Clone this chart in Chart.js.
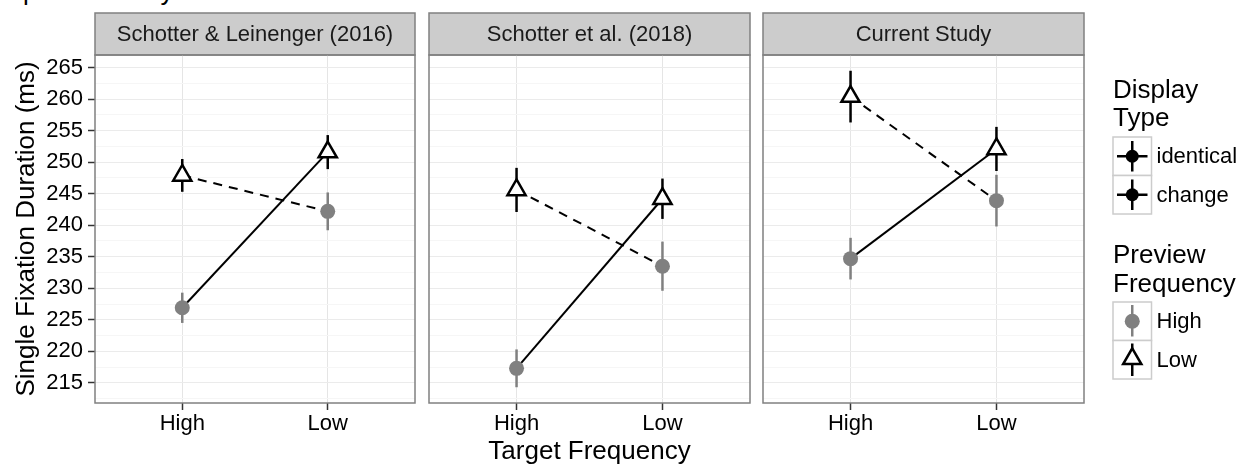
<!DOCTYPE html>
<html>
<head>
<meta charset="utf-8">
<script src="https://cdn.jsdelivr.net/npm/chart.js@4.4.1/dist/chart.umd.min.js"></script>
<style>
  html, body { margin: 0; padding: 0; background: #fff; }
  #fig { position: relative; width: 1240px; height: 465px; overflow: hidden; font-family: "Liberation Sans", Arial, sans-serif; }
  .panel { position: absolute; top: 0; height: 465px; }
  #caption { position: absolute; left: 0; top: -22px; font-size: 26px; line-height: 26px; white-space: nowrap; color: #000; }
</style>
</head>
<body>
<div id="fig">
  <div id="caption">represented by the mean</div>
  <div class="panel" style="left:0;width:420px"><canvas id="p0"></canvas></div>
  <div class="panel" style="left:420px;width:335px"><canvas id="p1"></canvas></div>
  <div class="panel" style="left:755px;width:485px"><canvas id="p2"></canvas></div>
</div>
<script>
// DATA

const studies = ["Schotter & Leinenger (2016)", "Schotter et al. (2018)", "Current Study"];
const targetFreq = ["High", "Low"];
const displayTypes = ["identical", "change"];
const previewFreq = ["High", "Low"];
const yTicks = [215, 220, 225, 230, 235, 240, 245, 250, 255, 260, 265];

// [study][target High, target Low]
const highPreviewMean = [[226.9, 242.2], [217.3, 233.5], [234.7, 243.9]];
const highPreviewSE = [[2.4, 3.0], [3.0, 3.9], [3.3, 4.1]];
const lowPreviewMean = [[247.9, 251.6], [245.6, 244.2], [260.4, 252.1]];
const lowPreviewSE = [[2.6, 2.7], [3.5, 3.2], [4.1, 3.5]];

const FONT = '"Liberation Sans", Arial, sans-serif';
Chart.defaults.font.family = FONT;
Chart.defaults.color = "#000";

const GREY_PT = "#808080";


// PLUGINS

const panelDecor = {
  id: "panelDecor",
  beforeDraw(chart, args, opts) {
    const ctx = chart.ctx;
    const a = chart.chartArea;
    ctx.save();
    ctx.fillStyle = "#cccccc";
    ctx.fillRect(a.left, 13, a.right - a.left, a.top - 13);
    ctx.strokeStyle = "#808080";
    ctx.lineWidth = 1.5;
    ctx.strokeRect(a.left, 13, a.right - a.left, a.top - 13);
    ctx.fillStyle = "#1a1a1a";
    ctx.font = "22px " + FONT;
    ctx.textAlign = "center";
    ctx.textBaseline = "middle";
    ctx.fillText(opts.title, (a.left + a.right) / 2, (13 + a.top) / 2 + 1);
    ctx.restore();
  },
  afterDraw(chart) {
    const ctx = chart.ctx;
    const a = chart.chartArea;
    ctx.save();
    ctx.strokeStyle = "#808080";
    ctx.lineWidth = 1.5;
    ctx.strokeRect(a.left, a.top, a.right - a.left, a.bottom - a.top);
    ctx.restore();
  }
};

const errorBars = {
  id: "errorBars",
  beforeDatasetDraw(chart, args) {
    const ds = chart.data.datasets[args.index];
    if (!ds.se) return;
    const ctx = chart.ctx;
    const xs = chart.scales.x, ys = chart.scales.y;
    ctx.save();
    ctx.strokeStyle = ds.errColor;
    ctx.lineWidth = 2.5;
    ds.data.forEach((p, i) => {
      const x = xs.getPixelForValue(p.x);
      ctx.beginPath();
      ctx.moveTo(x, ys.getPixelForValue(p.y - ds.se[i]));
      ctx.lineTo(x, ys.getPixelForValue(p.y + ds.se[i]));
      ctx.stroke();
    });
    ctx.restore();
  }
};

function triangle(ctx, x, y, r) {
  ctx.beginPath();
  ctx.moveTo(x, y - r);
  ctx.lineTo(x + 0.866 * r, y + 0.5 * r);
  ctx.lineTo(x - 0.866 * r, y + 0.5 * r);
  ctx.closePath();
}

const ggLegend = {
  id: "ggLegend",
  afterDraw(chart) {
    const ctx = chart.ctx;
    const x0 = chart.chartArea.right + 29;
    const s = 38.5;
    ctx.save();
    ctx.fillStyle = "#000";
    ctx.textAlign = "left";
    ctx.textBaseline = "alphabetic";
    ctx.font = "26px " + FONT;
    ctx.fillText("Display", x0, 98);
    ctx.fillText("Type", x0, 126);
    ctx.fillText("Preview", x0, 263);
    ctx.fillText("Frequency", x0, 291.5);

    function box(y) {
      ctx.fillStyle = "#fff";
      ctx.fillRect(x0, y, s, s);
      ctx.strokeStyle = "#cccccc";
      ctx.lineWidth = 1.5;
      ctx.strokeRect(x0, y, s, s);
    }
    function label(text, y) {
      ctx.fillStyle = "#000";
      ctx.font = "22px " + FONT;
      ctx.textBaseline = "middle";
      ctx.fillText(text, x0 + s + 5, y + s / 2 + 1);
    }

    displayTypes.forEach((t, i) => {
      const y = 137 + i * s;
      box(y);
      const cx = x0 + s / 2, cy = y + s / 2;
      ctx.strokeStyle = "#000";
      ctx.lineWidth = 2.5;
      ctx.beginPath();
      ctx.moveTo(x0 + 4, cy); ctx.lineTo(x0 + s - 4, cy);
      ctx.moveTo(cx, y + 4); ctx.lineTo(cx, y + s - 4);
      ctx.stroke();
      ctx.fillStyle = "#000";
      ctx.beginPath(); ctx.arc(cx, cy, 6.5, 0, Math.PI * 2); ctx.fill();
      label(t, y);
    });

    previewFreq.forEach((t, i) => {
      const y = 302 + i * s;
      box(y);
      const cx = x0 + s / 2, cy = y + s / 2;
      ctx.lineWidth = 2.5;
      if (i === 0) {
        ctx.strokeStyle = GREY_PT;
        ctx.beginPath(); ctx.moveTo(cx, y + 3); ctx.lineTo(cx, y + s - 4); ctx.stroke();
        ctx.fillStyle = GREY_PT;
        ctx.beginPath(); ctx.arc(cx, cy, 7.5, 0, Math.PI * 2); ctx.fill();
      } else {
        ctx.strokeStyle = "#000";
        ctx.beginPath(); ctx.moveTo(cx, y + 3); ctx.lineTo(cx, y + s - 3); ctx.stroke();
        triangle(ctx, cx, cy - 1, 10.5);
        ctx.fillStyle = "#fff"; ctx.fill();
        ctx.stroke();
      }
      label(t, y);
    });
    ctx.restore();
  }
};


// PANELS

function makePanel(canvasId, i, opts) {
  const first = i === 0;
  const pts = (means) => targetFreq.map((t, j) => ({ x: j + 1, y: means[i][j] }));
  const hp = pts(highPreviewMean);
  const lp = pts(lowPreviewMean);

  return new Chart(document.getElementById(canvasId), {
    type: "scatter",
    data: {
      datasets: [
        {
          label: displayTypes[0],
          data: [hp[0], lp[1]],
          showLine: true,
          borderColor: "#000",
          borderWidth: 2,
          pointRadius: 0,
          order: 3
        },
        {
          label: displayTypes[1],
          data: [lp[0], hp[1]],
          showLine: true,
          borderColor: "#000",
          borderWidth: 2,
          borderDash: [9, 7],
          pointRadius: 0,
          order: 3
        },
        {
          label: previewFreq[0],
          data: hp,
          se: highPreviewSE[i],
          errColor: GREY_PT,
          pointStyle: "circle",
          pointRadius: 7.5,
          pointBackgroundColor: GREY_PT,
          pointBorderWidth: 0,
          order: 2
        },
        {
          label: previewFreq[1],
          data: lp,
          se: lowPreviewSE[i],
          errColor: "#000",
          pointStyle: "triangle",
          pointRadius: 10.5,
          pointBackgroundColor: "#fff",
          pointBorderColor: "#000",
          pointBorderWidth: 2.5,
          order: 1
        }
      ]
    },
    options: {
      responsive: true,
      maintainAspectRatio: false,
      animation: false,
      events: [],
      layout: { padding: opts.padding, autoPadding: false },
      plugins: {
        legend: { display: false },
        tooltip: { enabled: false },
        panelDecor: { title: studies[i] }
      },
      scales: {
        x: {
          type: "linear",
          min: 0.4,
          max: 2.6,
          afterBuildTicks: (scale) => {
            scale.ticks = targetFreq.map((t, j) => ({ value: j + 1 }));
          },
          afterFit: (scale) => {
            scale.height = 62;
            scale.paddingLeft = 0;
            scale.paddingRight = 0;
          },
          ticks: {
            autoSkip: false,
            padding: 1,
            font: { size: 22 },
            color: "#000",
            callback: (v) => targetFreq[v - 1]
          },
          grid: {
            color: "#e5e5e5",
            lineWidth: 1,
            tickLength: 7,
            tickColor: "#333",
            tickWidth: 1.5
          },
          border: { display: false },
          title: {
            display: opts.xTitle,
            text: "Target Frequency",
            font: { size: 26, lineHeight: 1 },
            padding: { top: 0, bottom: 0 },
            color: "#000"
          }
        },
        y: {
          type: "linear",
          min: 211.8,
          max: 267.0,
          afterBuildTicks: (scale) => {
            const all = [];
            yTicks.forEach(v => { all.push(v - 2.5); all.push(v); });
            scale.ticks = all.map(v => ({ value: v }));
          },
          afterFit: (scale) => {
            scale.width = first ? 95 : 0;
            scale.paddingTop = 0;
            scale.paddingBottom = 0;
          },
          ticks: {
            display: first,
            autoSkip: false,
            padding: 5,
            font: { size: 22 },
            color: "#000",
            callback: (v) => (yTicks.includes(v) ? v : "")
          },
          grid: {
            drawTicks: first,
            tickLength: 7,
            color: (c) => (c.tick && yTicks.includes(c.tick.value) ? "#ebebeb" : "#f6f6f6"),
            lineWidth: 1,
            tickColor: (c) => (c.tick && yTicks.includes(c.tick.value) ? "#333" : "rgba(0,0,0,0)"),
            tickWidth: 1.5
          },
          border: { display: false },
          title: {
            display: first,
            text: "Single Fixation Duration (ms)",
            font: { size: 26, lineHeight: 1 },
            padding: { top: 14, bottom: 0 },
            color: "#000"
          }
        }
      }
    },
    plugins: opts.legend ? [panelDecor, errorBars, ggLegend] : [panelDecor, errorBars]
  });
}

makePanel("p0", 0, { padding: { top: 55, left: 0, right: 5, bottom: 0 }, xTitle: false });
makePanel("p1", 1, { padding: { top: 55, left: 9, right: 5, bottom: 0 }, xTitle: true });
makePanel("p2", 2, { padding: { top: 55, left: 8, right: 156, bottom: 0 }, xTitle: false, legend: true });
</script>
</body>
</html>
